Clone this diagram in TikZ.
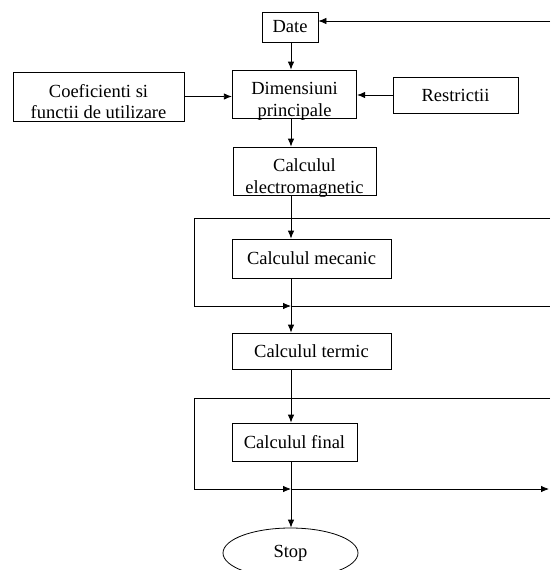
\documentclass[tikz,border=0pt]{standalone}
\usepackage{fontspec}
\setmainfont{Liberation Serif}
\usetikzlibrary{arrows.meta,shapes.geometric}
\tikzset{
  blk/.style={draw, line width=0.8pt, inner sep=2pt, align=center},
  twoln/.style={text height=44pt, text depth=0pt},
  arr/.style={line width=0.8pt, -{Latex[length=8pt,width=6.5pt]}},
  ln/.style={line width=0.8pt}
}

\begin{document}
\begin{tikzpicture}[x=1pt, y=-1pt, font=\fontsize{18.5}{21.5}\selectfont]
    \useasboundingbox (0,0) rectangle (550,570);
    \coordinate (ax) at (291,0);

    \node[blk, minimum width=56pt, minimum height=30pt] (date) at (290,27) {Date};
    \node[blk, twoln, minimum width=124.5pt, minimum height=48pt] (dim) at (294.5,94) {Dimensiuni\\principale};
    \node[blk, twoln, minimum width=171pt, minimum height=49pt] (coef) at (98.5,96.5) {Coeficienti si\\functii de utilizare};
    \node[blk, minimum width=125pt, minimum height=36pt] (restr) at (455.5,95) {Restrictii};
    \node[blk, twoln, minimum width=143pt, minimum height=48pt] (elm) at (304.5,171) {Calculul\\electromagnetic};
    \node[blk, minimum width=159pt, minimum height=39pt] (mec) at (311.5,258.5) {Calculul mecanic};
    \node[blk, minimum width=159pt, minimum height=36pt] (term) at (311.5,351) {Calculul termic};
    \node[blk, minimum width=125pt, minimum height=38pt] (fin) at (294.5,442) {Calculul final};
    \node[draw, ellipse, line width=0.8pt, minimum width=135pt, minimum height=50pt] (stop) at (290.5,553) {Stop};

    \draw[arr] (date.south -| ax) -- (dim.north -| ax);
    \draw[arr] (dim.south -| ax) -- (elm.north -| ax);
    \draw[arr] (elm.south -| ax) -- (mec.north -| ax);
    \draw[arr] (mec.south -| ax) -- (term.north -| ax);
    \draw[arr] (term.south -| ax) -- (fin.north -| ax);
    \draw[arr] (fin.south -| ax) -- (stop.north -| ax);
    \draw[arr] (coef) -- (coef -| dim.west);
    \draw[arr] (restr) -- (restr -| dim.east);

    \coordinate (fb) at (550,21);
    \draw[arr] (fb) -- (fb -| date.east);

    \coordinate (t1) at (550,218);
    \coordinate (b1) at (194,306);
    \coordinate (e1) at (550,306);
    \draw[arr] (t1) -| (b1) -- (b1 -| ax);
    \draw[ln] (b1 -| ax) -- (e1);

    \coordinate (t2) at (550,398);
    \coordinate (b2) at (194,489);
    \coordinate (e2) at (549,489);
    \draw[arr] (t2) -| (b2) -- (b2 -| ax);
    \draw[arr] (b2 -| ax) -- (e2);
\end{tikzpicture}
\end{document}
